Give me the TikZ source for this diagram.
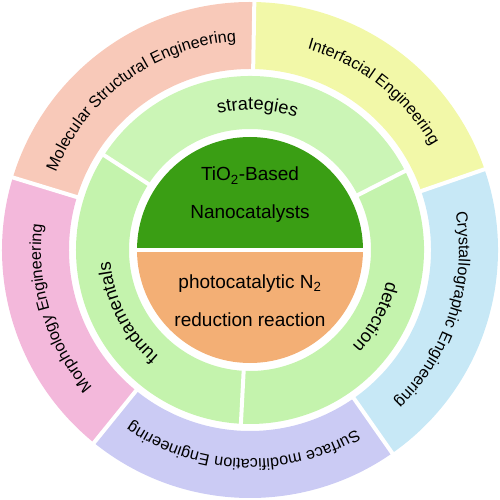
\documentclass[tikz,border=0pt]{standalone}
\usepackage{fontspec}
\setmainfont{Liberation Sans}
\usepackage{tikz}
\usetikzlibrary{decorations.text}

\definecolor{molc}{HTML}{F8C9B9}
\definecolor{intf}{HTML}{F2F8A8}
\definecolor{crys}{HTML}{C7E8F6}
\definecolor{surf}{HTML}{CBCBF4}
\definecolor{morph}{HTML}{F3B8DB}
\definecolor{strat}{HTML}{CBF5B6}
\definecolor{fund}{HTML}{C4F3AD}
\definecolor{nano}{HTML}{3A9E14}
\definecolor{photo}{HTML}{F3AF75}

\newcommand{\ringfont}{\fontsize{16.2}{19}\selectfont}
\newcommand{\midfont}{\fontsize{18.2}{21}\selectfont}
\newcommand{\corefont}{\fontsize{19}{22}\selectfont}

\begin{document}
\begin{tikzpicture}[x=1pt,y=1pt,
    divider/.style={white,line width=4pt},
    center/.style={anchor=base,font=\corefont,inner sep=0pt},
    label/.style={decorate,decoration={text along path,text align=center,text={#1}}}]
            \useasboundingbox (-250,-250) rectangle (250,250);
            \fill[molc] (89:181) arc[start angle=89,end angle=163,radius=181] -- (163:248) arc[start angle=163,end angle=89,radius=248] -- cycle;
            \fill[intf] (19:181) arc[start angle=19,end angle=89,radius=181] -- (89:248) arc[start angle=89,end angle=19,radius=248] -- cycle;
            \fill[crys] (-55:181) arc[start angle=-55,end angle=19,radius=181] -- (19:248) arc[start angle=19,end angle=-55,radius=248] -- cycle;
            \fill[surf] (-129:181) arc[start angle=-129,end angle=-55,radius=181] -- (-55:248) arc[start angle=-55,end angle=-129,radius=248] -- cycle;
            \fill[morph] (163:181) arc[start angle=163,end angle=231,radius=181] -- (231:248) arc[start angle=231,end angle=163,radius=248] -- cycle;
            \draw[divider] (89:179) -- (89:250);
            \draw[divider] (19:179) -- (19:250);
            \draw[divider] (-55:179) -- (-55:250);
            \draw[divider] (-129:179) -- (-129:250);
            \draw[divider] (163:179) -- (163:250);
            \fill[strat] (27:121) arc[start angle=27,end angle=147,radius=121] -- (147:174) arc[start angle=147,end angle=27,radius=174] -- cycle;
            \fill[fund] (147:121) arc[start angle=147,end angle=267,radius=121] -- (267:174) arc[start angle=267,end angle=147,radius=174] -- cycle;
            \fill[fund] (-93:121) arc[start angle=-93,end angle=27,radius=121] -- (27:174) arc[start angle=27,end angle=-93,radius=174] -- cycle;
            \draw[divider] (27:119) -- (27:176);
            \draw[divider] (147:119) -- (147:176);
            \draw[divider] (267:119) -- (267:176);
            \fill[nano] (0:113) arc[start angle=0,end angle=180,radius=113] -- cycle;
            \fill[photo] (180:113) arc[start angle=180,end angle=360,radius=113] -- cycle;
            \draw[divider] (-115,0) -- (115,0);
            \node[center] at (0,69) (tio) {TiO\textsubscript{2}-Based};
            \node[center] at (0,31) (nc) {Nanocatalysts};
            \node[center] at (0,-38) (pc) {photocatalytic N\textsubscript{2}};
            \node[center] at (0,-77) (rr) {reduction reaction};
            \path[label={|\midfont|strategies}] (147:140) arc[start angle=147,end angle=27,radius=140];
            \path[label={|\midfont|fundamentals}] (267:140) arc[start angle=267,end angle=147,radius=140];
            \path[label={|\midfont|detection}] (37:140) arc[start angle=37,end angle=-93,radius=140];
            \path[label={|\ringfont|Molecular Structural Engineering}] (163:209) arc[start angle=163,end angle=89,radius=209];
            \path[label={|\ringfont|Interfacial Engineering}] (85:209) arc[start angle=85,end angle=19,radius=209];
            \path[label={|\ringfont|Crystallographic Engineering}] (19:209) arc[start angle=19,end angle=-55,radius=209];
            \path[label={|\ringfont|Surface modification Engineering}] (-55:209) arc[start angle=-55,end angle=-129,radius=209];
            \path[label={|\ringfont|Morphology Engineering}] (231:209) arc[start angle=231,end angle=163,radius=209];
        \end{tikzpicture}
\end{document}
